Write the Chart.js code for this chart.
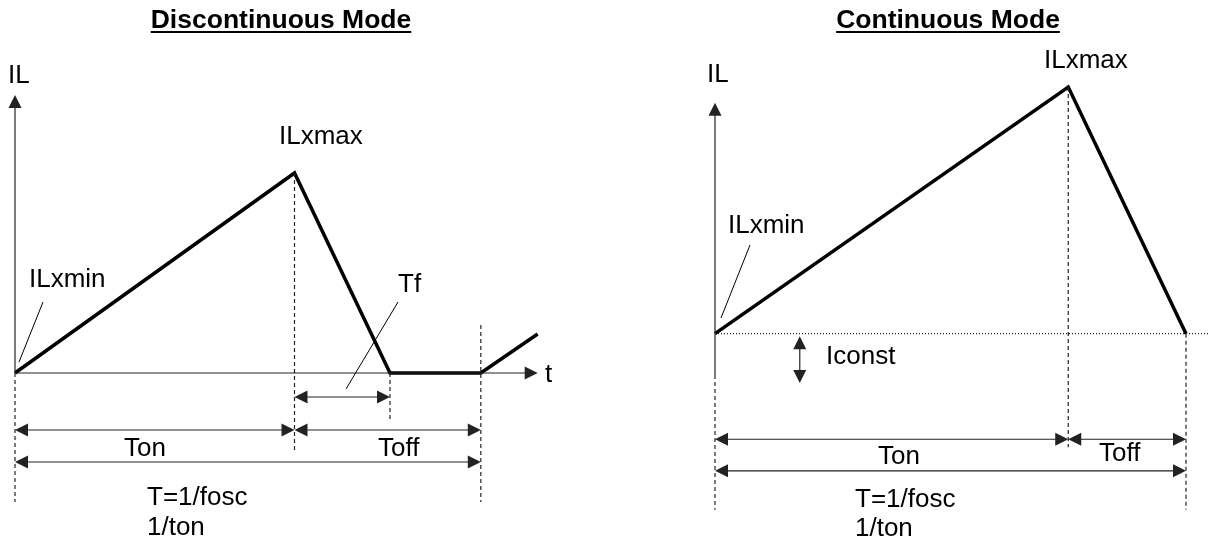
<!DOCTYPE html>
<html>
<head>
<meta charset="utf-8">
<script src="https://cdn.jsdelivr.net/npm/chart.js@4.4.1/dist/chart.umd.min.js"></script>
<style>
  html, body { margin: 0; padding: 0; background: #fff; }
  .panel { position: absolute; top: 0; width: 605px; height: 541px; }
  #p1 { left: 0; }
  #p2 { left: 605px; }
</style>
</head>
<body>
<div class="panel" id="p1"><canvas id="discChart" width="605" height="541"></canvas></div>
<div class="panel" id="p2"><canvas id="contChart" width="605" height="541"></canvas></div>
<script>
// --- Discontinuous mode (time / current in arbitrary units) ---
const discT  = [0, 6, 8.05, 10, 11.22];
const discIL = [0, 4, 0, 0, 0.78];
// dashed markers: [t, from IL, to IL]
const discMarks = [[0, 0, -2.58], [6, 4, -1.6], [8.05, 0, -0.98], [10, 0.96, -2.58]];
// dimension arrows: [t start, t end, level]
const discDims = [[6, 8.05, -0.48], [0, 6, -1.14], [6, 10, -1.14], [0, 10, -1.78]];

// --- Continuous mode ---
const contT  = [0, 7.5, 10];
const contIL = [1, 6, 1];
const contMarks = [[7.5, 6, -1.3], [10, 1, -2.57]];
const contDims = [[0, 7.5, -1.14], [7.5, 10, -1.14], [0, 10, -1.78]];
const iconst = [1.8, 0.95, 0];   // [t, top, bottom]

const FONT = '26px "Liberation Sans", Arial, sans-serif';
const TITLE_FONT = 'bold 26.5px "Liberation Sans", Arial, sans-serif';
const INK = '#000';
const THIN = '#222';

function head(ctx, x, y, ang) {
    ctx.save();
    ctx.translate(x, y);
    ctx.rotate(ang);
    ctx.beginPath();
    ctx.moveTo(0, 0);
    ctx.lineTo(-13, -6.5);
    ctx.lineTo(-13, 6.5);
    ctx.closePath();
    ctx.fill();
    ctx.restore();
}

function seg(ctx, x1, y1, x2, y2, dash) {
    ctx.setLineDash(dash || []);
    ctx.beginPath();
    ctx.moveTo(x1, y1);
    ctx.lineTo(x2, y2);
    ctx.stroke();
    ctx.setLineDash([]);
}

// draws axes, dimension arrows, dashed markers and labels
const diagramPlugin = {
    id: 'diagram',
    afterDatasetsDraw(chart, args, o) {
        const ctx = chart.ctx;
        const X = v => chart.scales.x.getPixelForValue(v);
        const Y = v => chart.scales.y.getPixelForValue(v);
        ctx.save();
        ctx.strokeStyle = THIN;
        ctx.fillStyle = THIN;
        ctx.lineWidth = 1.2;

        // dashed verticals
        o.marks.forEach(m => seg(ctx, X(m[0]), Y(m[1]), X(m[0]), Y(m[2]), [4, 3]));

        // y axis
        const ax = o.yAxis;
        seg(ctx, X(0), Y(ax.from), X(0), Y(ax.to) + 10);
        head(ctx, X(0), Y(ax.to), -Math.PI / 2);
        if (ax.dashTo !== undefined) seg(ctx, X(0), Y(ax.from), X(0), Y(ax.dashTo), [4, 3]);

        // t axis
        if (o.tAxis) {
            seg(ctx, X(0), Y(0), X(o.tAxis.to) - 10, Y(0));
            head(ctx, X(o.tAxis.to), Y(0), 0);
        }
        // dotted reference line
        if (o.dotted !== undefined) seg(ctx, X(0), Y(o.dotted), chart.width, Y(o.dotted), [1, 2]);

        // dimension arrows
        o.dims.forEach(d => {
            const y = Y(d[2]), a = X(d[0]), b = X(d[1]);
            seg(ctx, a + 6, y, b - 6, y);
            head(ctx, a, y, Math.PI);
            head(ctx, b, y, 0);
        });
        // vertical double arrow
        if (o.vdim) {
            const x = X(o.vdim[0]), a = Y(o.vdim[1]), b = Y(o.vdim[2]);
            seg(ctx, x, a + 6, x, b - 6);
            head(ctx, x, a, -Math.PI / 2);
            head(ctx, x, b, Math.PI / 2);
        }

        // leader lines
        ctx.strokeStyle = INK;
        ctx.lineWidth = 1;
        o.leaders.forEach(l => seg(ctx, l[0], l[1], l[2], l[3]));

        // labels
        ctx.fillStyle = INK;
        ctx.font = FONT;
        ctx.textBaseline = 'alphabetic';
        ctx.textAlign = 'left';
        o.labels.forEach(l => ctx.fillText(l[0], l[1], l[2]));

        // underlined title
        ctx.font = TITLE_FONT;
        ctx.textAlign = 'center';
        ctx.fillText(o.title, o.titleX, 28);
        const w = ctx.measureText(o.title).width;
        ctx.fillRect(o.titleX - w / 2, 31, w, 2);
        ctx.restore();
    }
};

function makeChart(id, ts, ils, pad, xmax, ymax, diagram) {
    new Chart(document.getElementById(id), {
        type: 'scatter',
        data: {
            datasets: [{
                data: ts.map((t, i) => ({ x: t, y: ils[i] })),
                showLine: true,
                borderColor: INK,
                borderWidth: 3.5,
                borderJoinStyle: 'miter',
                pointRadius: 0,
                clip: false
            }]
        },
        options: {
            responsive: false,
            animation: false,
            layout: { padding: pad },
            scales: {
                x: { type: 'linear', min: 0, max: xmax, display: false },
                y: { type: 'linear', min: 0, max: ymax, display: false }
            },
            plugins: {
                legend: { display: false },
                tooltip: { enabled: false },
                diagram: diagram
            }
        },
        plugins: [diagramPlugin]
    });
}

makeChart('discChart', discT, discIL, { left: 15, right: 31, top: 173, bottom: 168 }, 12, 4, {
    title: 'Discontinuous Mode', titleX: 281,
    marks: discMarks, dims: discDims,
    yAxis: { from: 0, to: 5.56 },
    tAxis: { to: 11.22 },
    leaders: [[43, 302, 19, 362], [398, 302, 346, 389]],
    labels: [
        ['IL', 8, 83], ['ILxmax', 279, 144], ['ILxmin', 29, 287], ['Tf', 398, 292],
        ['t', 545, 382], ['Ton', 124, 456], ['Toff', 378, 456],
        ['T=1/fosc', 147, 505], ['1/ton', 147, 535]
    ]
});

makeChart('contChart', contT, contIL, { left: 110, right: 24, top: 87, bottom: 158 }, 10, 6, {
    title: 'Continuous Mode', titleX: 343,
    marks: contMarks, dims: contDims,
    yAxis: { from: 0.16, to: 5.68, dashTo: -2.57 },
    dotted: 1,
    vdim: iconst,
    leaders: [[145, 245, 116, 318]],
    labels: [
        ['IL', 102, 82], ['ILxmax', 439, 68], ['ILxmin', 123, 233], ['Iconst', 221, 364],
        ['Ton', 273, 464], ['Toff', 494, 461],
        ['T=1/fosc', 250, 507], ['1/ton', 250, 536]
    ]
});
</script>
</body>
</html>
